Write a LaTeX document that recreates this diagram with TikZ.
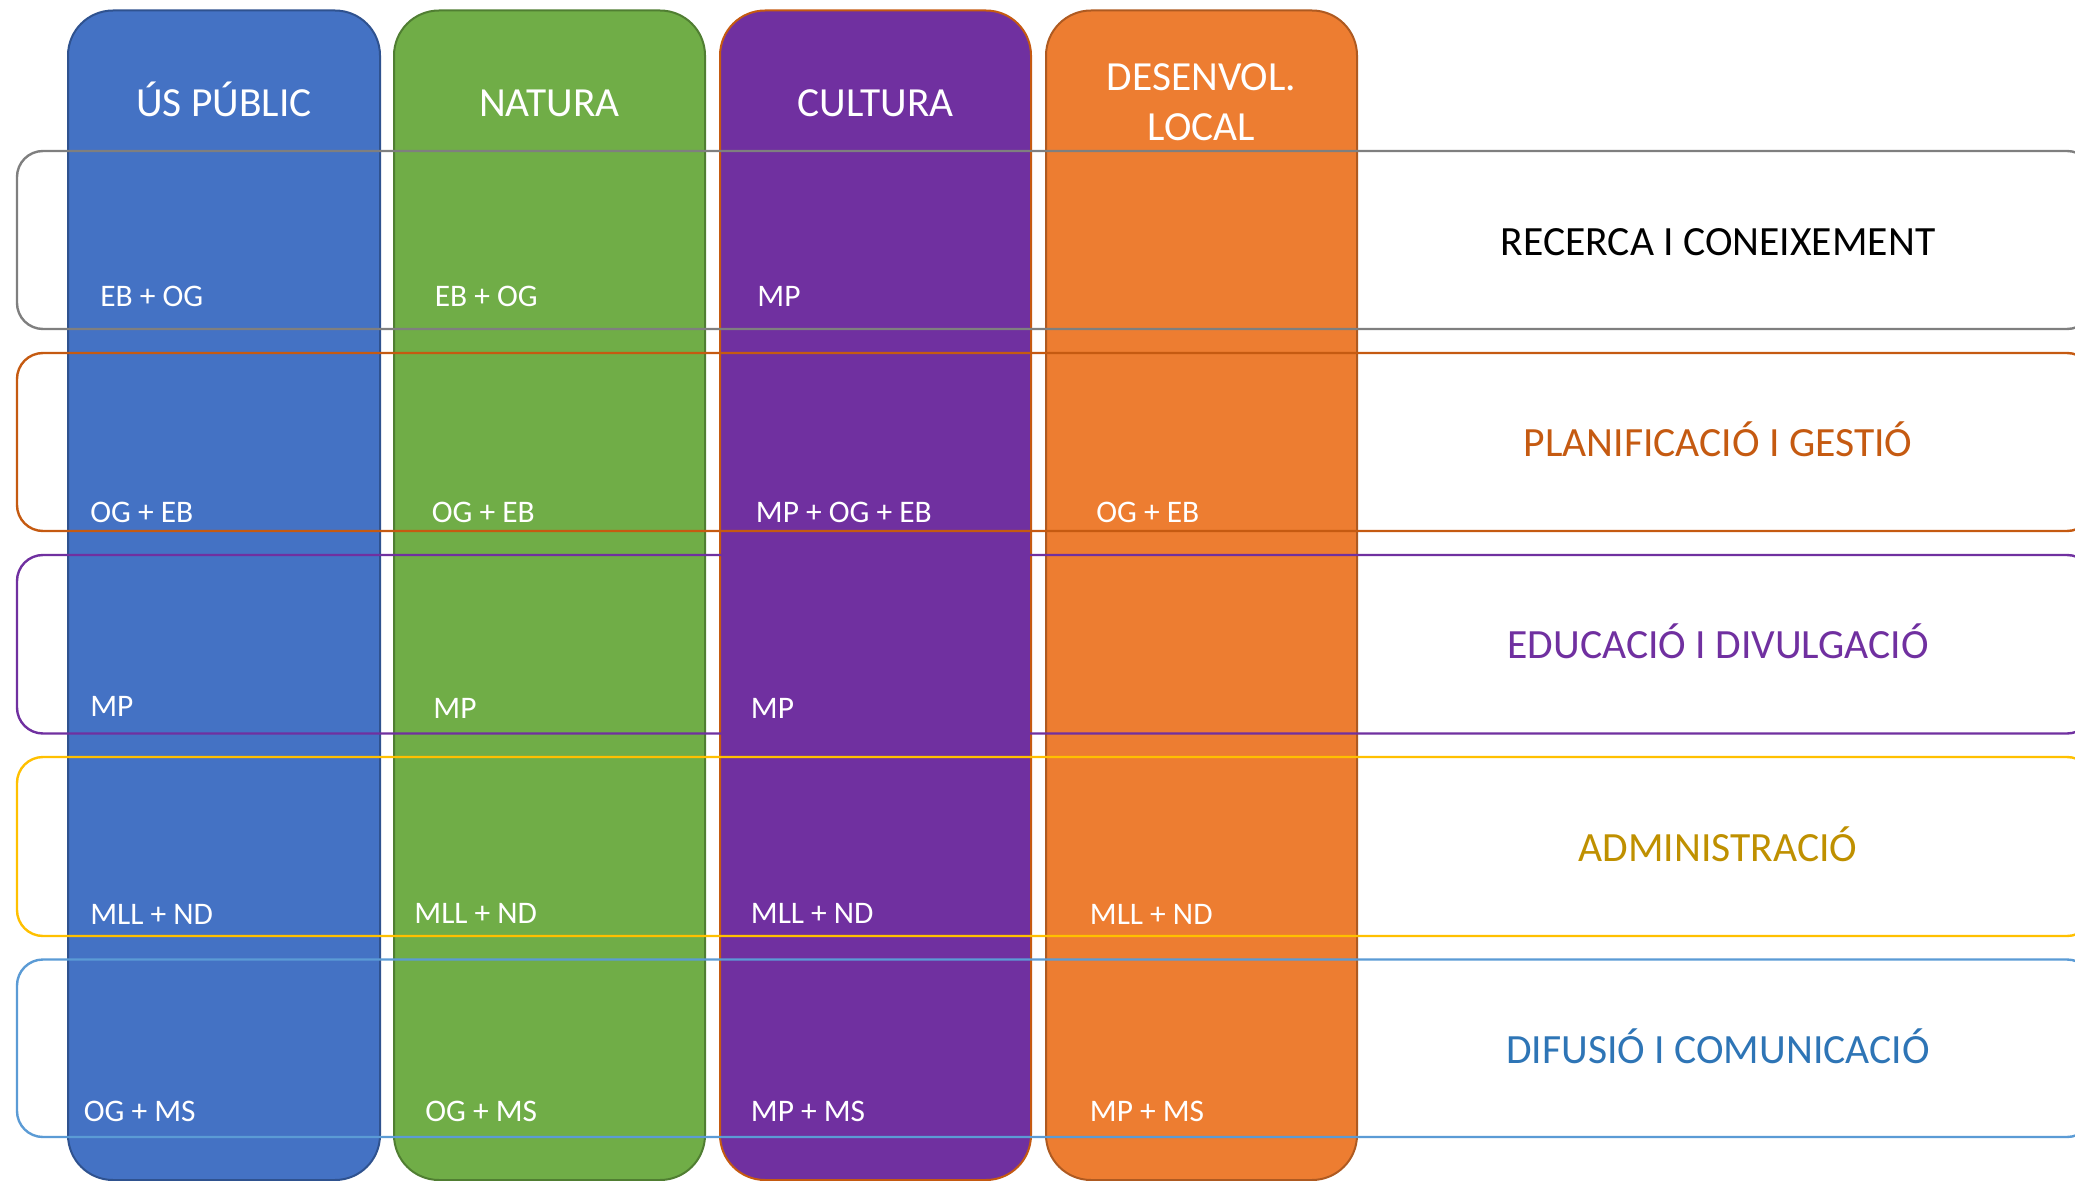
\documentclass[tikz,border=0pt]{standalone}
\usepackage{fontspec}
\setmainfont{Carlito}
\definecolor{cblue}{HTML}{4472C4}
\definecolor{cbluee}{HTML}{2F528F}
\definecolor{cgreen}{HTML}{70AD47}
\definecolor{cgreene}{HTML}{507E32}
\definecolor{cpurple}{HTML}{7030A0}
\definecolor{corange}{HTML}{ED7D31}
\definecolor{corangee}{HTML}{AE5A21}
\definecolor{cburnt}{HTML}{C55A11}
\definecolor{cgray}{HTML}{7F7F7F}
\definecolor{cgold}{HTML}{FFC000}
\definecolor{cgoldtxt}{HTML}{BF9000}
\definecolor{clblue}{HTML}{5B9BD5}
\definecolor{cbluetxt}{HTML}{2E75B6}
\begin{document}
\begin{tikzpicture}[x=0.5pt,y=-0.5pt,
  colbox/.style={line width=1pt, rounded corners=22.5pt},
  rowbox/.style={line width=1.2pt, rounded corners=13pt},
  hdr/.style={text=white, font=\fontsize{20.7}{24.7}\selectfont, anchor=base, inner sep=0pt, align=center},
  cell/.style={text=white, font=\fontsize{15.7}{18}\selectfont, anchor=west, inner sep=0pt},
  rowlab/.style={font=\fontsize{20.8}{25}\selectfont, anchor=base, inner sep=0pt}]
\useasboundingbox (0,0) rectangle (2075,1181);
\clip (0,0) rectangle (2075,1181);
% columns
\draw[colbox, fill=cblue, draw=cbluee] (68,10.5) rectangle (380,1180);
\draw[colbox, fill=cgreen, draw=cgreene] (394,10.5) rectangle (705,1180);
\draw[colbox, fill=cpurple, draw=cburnt] (720,10.5) rectangle (1031,1180);
\draw[colbox, fill=corange, draw=corangee] (1046,10.5) rectangle (1357,1180);
% rows
\draw[rowbox, draw=cgray] (17,151) rectangle (2093,329);
\draw[rowbox, draw=cburnt] (17,353) rectangle (2093,531);
\draw[rowbox, draw=cpurple] (17,555) rectangle (2093,733.5);
\draw[rowbox, draw=cgold] (17,757) rectangle (2093,936);
\draw[rowbox, draw=clblue] (17,959.5) rectangle (2093,1137);
% headers
\node[hdr] (h1) at (224,116.5) {ÚS PÚBLIC};
\node[hdr] (h2) at (549.5,116.5) {NATURA};
\node[hdr] (h3) at (875.5,116.5) {CULTURA};
\node[hdr] (h4) at (1201.5,140.4) {DESENVOL.\\LOCAL};
% row labels
\node[rowlab, text=black] (r1) at (1718,255.5) {RECERCA I CONEIXEMENT};
\node[rowlab, text=cburnt] (r2) at (1718,457) {PLANIFICACIÓ I GESTIÓ};
\node[rowlab, text=cpurple] (r3) at (1718,658) {EDUCACIÓ I DIVULGACIÓ};
\node[rowlab, text=cgoldtxt] (r4) at (1718,861) {ADMINISTRACIÓ};
\node[rowlab, text=cbluetxt] (r5) at (1718,1063) {DIFUSIÓ I COMUNICACIÓ};
% cells
\node[cell] (a1) at (100,296.5) {EB + OG};
\node[cell] (b1) at (434.5,296.5) {EB + OG};
\node[cell] (c1) at (757,296.5) {MP};
\node[cell] (a2) at (90,512.8) {OG + EB};
\node[cell] (b2) at (431.5,512.8) {OG + EB};
\node[cell] (c2) at (755.5,512.8) {MP + OG + EB};
\node[cell] (d2) at (1096,512.5) {OG + EB};
\node[cell] (a3) at (90,706.5) {MP};
\node[cell] (b3) at (433,708.8) {MP};
\node[cell] (c3) at (750.5,708.8) {MP};
\node[cell] (a4) at (90,914.5) {MLL + ND};
\node[cell] (b4) at (414,913.5) {MLL + ND};
\node[cell] (c4) at (750.5,913.5) {MLL + ND};
\node[cell] (d4) at (1089.5,914) {MLL + ND};
\node[cell] (a5) at (83.5,1111) {OG + MS};
\node[cell] (b5) at (425,1111) {OG + MS};
\node[cell] (c5) at (750.5,1111) {MP + MS};
\node[cell] (d5) at (1089.5,1111) {MP + MS};
\end{tikzpicture}
\end{document}
